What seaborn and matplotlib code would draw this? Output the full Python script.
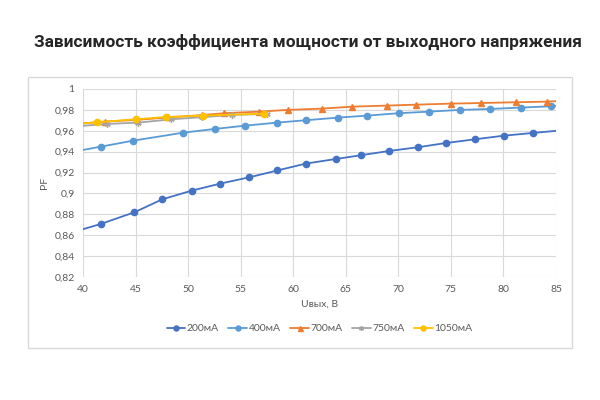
import numpy as np
import pandas as pd
import seaborn as sns
import matplotlib.pyplot as plt
from matplotlib.patches import Rectangle
from matplotlib.ticker import FuncFormatter, MultipleLocator

# data (points outside 40..85 only carry the line to the edge)
u_200 = [38.9, 41.7, 44.9, 47.55, 50.35, 53.05, 55.84, 58.5, 61.2, 64.07, 66.45, 69.14, 71.84, 74.54, 77.33, 80.03, 82.79, 85.5]
pf_200 = [0.8625, 0.8708, 0.882, 0.8944, 0.9027, 0.9094, 0.9155, 0.922, 0.9286, 0.933, 0.9366, 0.9407, 0.9442, 0.9483, 0.9519, 0.9553, 0.9579, 0.9604]
u_400 = [38.8, 41.7, 44.8, 49.55, 52.57, 55.43, 58.45, 61.2, 64.26, 67.0, 70.03, 72.89, 75.9, 78.7, 81.69, 84.57, 87.4]
pf_400 = [0.9394, 0.9448, 0.9506, 0.9582, 0.9618, 0.9649, 0.9678, 0.9701, 0.9726, 0.9745, 0.9768, 0.9783, 0.98, 0.9809, 0.9822, 0.9835, 0.985]
u_700 = [38.9, 42.1, 45.1, 48.1, 51.3, 53.4, 56.7, 59.5, 62.7, 65.6, 68.9, 71.7, 75.0, 77.9, 81.2, 84.1, 87.0]
pf_700 = [0.9662, 0.9688, 0.9704, 0.9728, 0.975, 0.9768, 0.9783, 0.98, 0.9812, 0.9831, 0.9841, 0.985, 0.986, 0.9866, 0.9873, 0.9879, 0.9893]
u_750 = [39.0, 42.25, 45.27, 48.4, 51.3, 54.2, 57.5]
pf_750 = [0.964, 0.9665, 0.9678, 0.971, 0.973, 0.9752, 0.9761]
u_1050 = [38.6, 41.37, 45.0, 47.9, 51.4, 57.2]
pf_1050 = [0.9658, 0.9682, 0.971, 0.9732, 0.9745, 0.9764]

labels = ["200мА", "400мА", "700мА", "750мА", "1050мА"]
colors = ["#4472C4", "#5B9BD5", "#ED7D31", "#A5A5A5", "#FFC000"]
markers = ["o", "o", "^", (6, 2, 0), "o"]
series = [(u_200, pf_200), (u_400, pf_400), (u_700, pf_700), (u_750, pf_750), (u_1050, pf_1050)]

sns.set_style("white")
plt.rcParams['font.family'] = ['Lato', 'DejaVu Sans']

fig = plt.figure(figsize=(6, 4), dpi=100)
fig.patches.append(Rectangle((0.047, 0.13), 0.906, 0.6775, transform=fig.transFigure,
                             fill=False, edgecolor="#D9D9D9", linewidth=1))
ax = fig.add_axes([0.1383, 0.3075, 0.7884, 0.47])

for (u, pf), lab, col, mk in zip(series, labels, colors, markers):
  df = pd.DataFrame({"U": u, "PF": pf})
  sns.lineplot(data=df, x="U", y="PF", ax=ax, color=col, marker=mk, markersize=4.5,
               markeredgecolor=col, markeredgewidth=1, linewidth=1.3, label=lab, sort=False)

ax.set_xlim(40, 85)
ax.set_ylim(0.82, 1.0)
ax.xaxis.set_major_locator(MultipleLocator(5))
ax.yaxis.set_major_locator(MultipleLocator(0.02))
ax.yaxis.set_major_formatter(FuncFormatter(lambda v, p: ("%g" % round(v, 2)).replace(".", ",")))
ax.grid(True, color="#D9D9D9", linewidth=0.8)
for s in ax.spines.values():
  s.set_visible(False)
ax.tick_params(axis="both", length=0, labelsize=7.5, labelcolor="#595959", pad=6)
ax.set_xlabel("Uвых, В", fontsize=7.5, color="#595959", labelpad=4)
ax.set_ylabel("PF", fontsize=7.5, color="#595959", labelpad=4)

ax.legend(loc="upper center", bbox_to_anchor=(0.5, -0.2), ncol=5, frameon=False,
          fontsize=7.5, labelcolor="#595959", handlelength=1.8, columnspacing=0.9,
          handletextpad=0.15, markerscale=0.8)

fig.text(0.513, 0.895, "Зависимость коэффициента мощности от выходного напряжения",
         ha="center", va="center", fontsize=12.45, fontweight="bold", family=["Roboto", "DejaVu Sans"])

plt.savefig("out.png", dpi=100)
